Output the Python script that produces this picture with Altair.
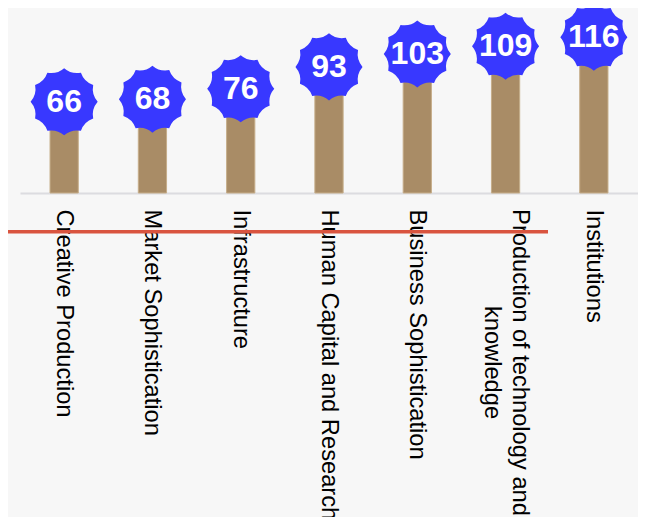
import math
import altair as alt
import pandas as pd

categories = [
    "Creative Production",
    "Market Sophistication",
    "Infrastructure",
    "Human Capital and Research",
    "Business Sophistication",
    "Production of technology and knowledge",
    "Institutions",
]
ranks = [66, 68, 76, 93, 103, 109, 116]

df = pd.DataFrame({"pillar": categories, "rank": ranks})

# scalloped seal badge path in [-1, 1] unit box
n = 12
parts = []
for i in range(n):
    a0 = 2 * math.pi * i / n - math.pi / 2
    am = 2 * math.pi * (i + 0.5) / n - math.pi / 2
    a1 = 2 * math.pi * (i + 1) / n - math.pi / 2
    x0, y0 = math.cos(a0), math.sin(a0)
    cx, cy = 0.84 * math.cos(am), 0.84 * math.sin(am)
    x1, y1 = math.cos(a1), math.sin(a1)
    if i == 0:
        parts.append(f"M{x0:.4f},{y0:.4f}")
    parts.append(f"Q{cx:.4f},{cy:.4f} {x1:.4f},{y1:.4f}")
seal = " ".join(parts) + " Z"

wrapped = "Production of technology and knowledge"
label_expr = (
    f"datum.label == '{wrapped}' ? "
    "['Production of technology and', 'knowledge'] : datum.label"
)
is_wrapped = f"datum.label == '{wrapped}'"

x_enc = alt.X(
    "pillar:N",
    sort=categories,
    scale=alt.Scale(paddingInner=0, paddingOuter=0),
    axis=alt.Axis(
        title=None,
        labelAngle=90,
        labelFontSize=23.7,
        labelFont="Liberation Sans",
        labelColor="#000000",
        labelPadding={"condition": {"test": is_wrapped, "value": 169}, "value": 16},
        labelLineHeight=28,
        labelLimit=400,
        labelExpr=label_expr,
        labelAlign={"condition": {"test": is_wrapped, "value": "center"}, "value": "left"},
        labelOffset={"condition": {"test": is_wrapped, "value": 14}, "value": 0},
        ticks=False,
        tickSize=0,
        domainColor="#dcdce0",
        domainWidth=2,
        grid=False,
    ),
)
y_scale = alt.Scale(domain=[0, 120], nice=False, zero=True)
y_enc = alt.Y("rank:Q", scale=y_scale, axis=None)

base = alt.Chart(df)

bars = base.mark_bar(
    width=alt.RelativeBandSize(0.32), color="#a98c66", stroke="#c6ae8a", strokeWidth=1
).encode(x=x_enc, y=y_enc)

red_line = alt.Chart(pd.DataFrame({"v": [-30]})).mark_rule(
    color="#d9543f", strokeWidth=3.5
).encode(
    y=alt.Y("v:Q", scale=y_scale, axis=None),
    x=alt.value(-12),
    x2=alt.value(528),
)

badges = base.mark_point(
    shape=seal, filled=True, fill="#3838ff", opacity=1, size=4500, strokeWidth=0, yOffset=-6
).encode(x=x_enc, y=y_enc)

labels = base.mark_text(
    color="white", fontSize=32, fontWeight="bold", font="Liberation Sans",
    baseline="middle", align="center", yOffset=-6,
).encode(x=x_enc, y=y_enc, text="rank:Q")

chart = (
    alt.layer(bars, red_line, badges, labels)
    .properties(
        width=618,
        height=155,
        background="#f7f7f7",
        padding={"left": 12, "top": 30, "right": 0, "bottom": 324},
        autosize=alt.AutoSizeParams(type="none"),
    )
    .configure_view(stroke=None)
)

chart.save("out.html", embed_options={"renderer": "svg", "actions": False})
